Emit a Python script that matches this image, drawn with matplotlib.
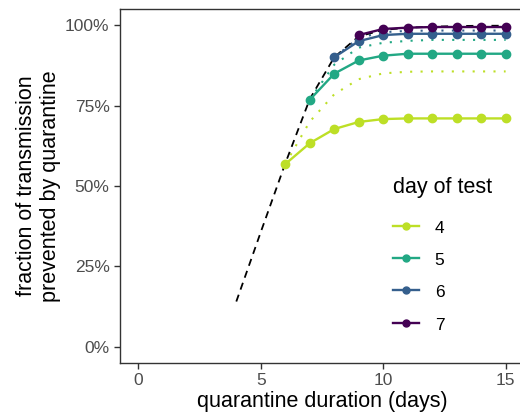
import matplotlib
matplotlib.use("Agg")
import matplotlib.pyplot as plt
from matplotlib.lines import Line2D
from matplotlib.ticker import FuncFormatter

plt.rcParams["font.family"] = ["Liberation Sans", "DejaVu Sans"]

# quarantine only (no test)
quar_days = [4, 5, 6, 7, 8, 9, 10, 11, 12, 13, 14, 15]
quar_only = [0.141, 0.357, 0.570, 0.770, 0.900, 0.965, 0.985, 0.992, 0.995, 0.997, 0.998, 0.998]

# quarantine + test, solid lines with points
test_days = [4, 5, 6, 7]
dur_4 = [6, 7, 8, 9, 10, 11, 12, 13, 14, 15]
frac_4 = [0.568, 0.633, 0.677, 0.699, 0.708, 0.710, 0.710, 0.710, 0.710, 0.710]
dur_5 = [7, 8, 9, 10, 11, 12, 13, 14, 15]
frac_5 = [0.768, 0.849, 0.890, 0.905, 0.911, 0.911, 0.911, 0.911, 0.911]
dur_6 = [8, 9, 10, 11, 12, 13, 14, 15]
frac_6 = [0.900, 0.950, 0.969, 0.973, 0.973, 0.973, 0.973, 0.973]
dur_7 = [9, 10, 11, 12, 13, 14, 15]
frac_7 = [0.969, 0.988, 0.992, 0.994, 0.994, 0.994, 0.994]

# dotted lines
dot_4 = [0.568, 0.700, 0.785, 0.832, 0.850, 0.855, 0.856, 0.856, 0.856, 0.856]
dot_5 = [0.768, 0.877, 0.930, 0.945, 0.951, 0.954, 0.954, 0.954, 0.954]
dot_6 = [0.900, 0.960, 0.978, 0.982, 0.983, 0.983, 0.983, 0.983]

cmap = plt.get_cmap("viridis")
colors = {4: cmap(0.9), 5: cmap(0.6), 6: cmap(0.3), 7: cmap(0.0)}

fig = plt.figure(figsize=(5.2, 4.16), dpi=100)
ax = fig.add_axes([120/520, 53/416, 404/520, 354/416])

dotted = [(4, dur_4, dot_4), (5, dur_5, dot_5), (6, dur_6, dot_6)]
for d, xs, ys in dotted:
	ax.plot(xs, ys, color=colors[d], lw=1.5, linestyle=(0, (1, 4)))

ax.plot(quar_days, quar_only, color="black", lw=1.3, linestyle=(0, (4, 3)))

solid = [(4, dur_4, frac_4), (5, dur_5, frac_5), (6, dur_6, frac_6), (7, dur_7, frac_7)]
for d, xs, ys in solid:
	ax.plot(xs, ys, color=colors[d], lw=1.7, marker="o", markersize=6)

ax.set_xlim(-0.75, 15.75)
ax.set_ylim(-0.05, 1.05)
ax.set_xticks([0, 5, 10, 15])
ax.set_yticks([0, 0.25, 0.5, 0.75, 1.0])
ax.yaxis.set_major_formatter(FuncFormatter(lambda v, p: "%d%%" % round(v*100)))

for s in ax.spines.values():
	s.set_color("#333333")
	s.set_linewidth(1.0)
ax.tick_params(colors="#333333", labelcolor="#4d4d4d", labelsize=12.5, length=4, width=1.0)

ax.set_xlabel("quarantine duration (days)", fontsize=15.5, color="black", labelpad=2)
ax.set_ylabel("fraction of transmission\nprevented by quarantine", fontsize=15.5, color="black", labelpad=3)

handles = [Line2D([], [], color=colors[d], lw=1.7, marker="o", markersize=5) for d in test_days]
leg = ax.legend(handles, [str(d) for d in test_days], title="day of test",
	loc="upper left", bbox_to_anchor=(393/520, 1-177/416), bbox_transform=fig.transFigure,
	frameon=False, fontsize=12.5, title_fontsize=15.5, handlelength=1.5, handleheight=1.0,
	handletextpad=0.9, labelspacing=0.9, borderpad=0, borderaxespad=0, alignment="left")
leg._legend_box.sep = 15

fig.savefig("out.png", dpi=100)
